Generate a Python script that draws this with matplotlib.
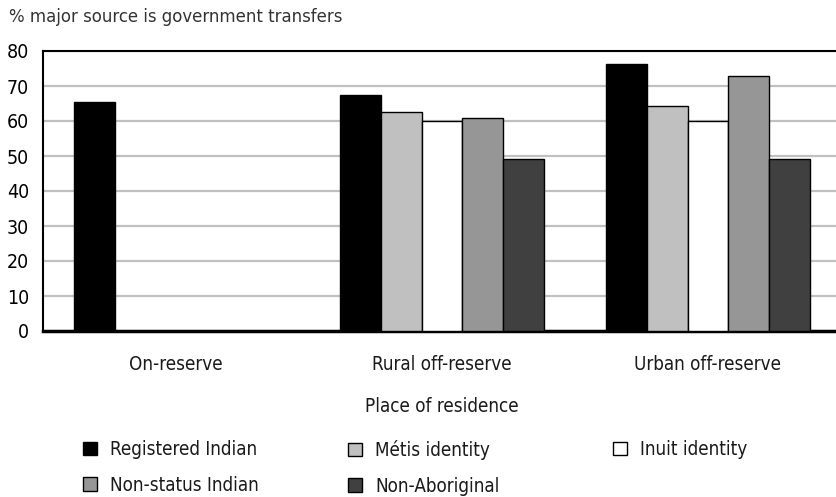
import numpy as np
import matplotlib
matplotlib.use("Agg")
import matplotlib.pyplot as plt
from matplotlib.patches import Patch

plt.rcParams['font.family'] = ['DejaVu Sans']
plt.rcParams['font.stretch'] = 'condensed'

# data
places = ["On-reserve", "Rural off-reserve", "Urban off-reserve"]
groups = ["Registered Indian", "Métis identity", "Inuit identity",
          "Non-status Indian", "Non-Aboriginal"]
registered = [65.3, 67.4, 76.4]
metis = [np.nan, 62.6, 64.3]
inuit = [np.nan, 60.0, 60.0]
non_status = [np.nan, 60.9, 72.9]
non_aboriginal = [np.nan, 49.1, 49.1]
series = [registered, metis, inuit, non_status, non_aboriginal]
colors = ["#000000", "#c0c0c0", "#ffffff", "#969696", "#404040"]

fig = plt.figure(figsize=(8.36, 4.97), dpi=100)
ax = fig.add_axes([43/836, 1 - 331/497, 798/836, 280/497])

x = np.arange(len(places))
w = 0.154
for i, (vals, c) in enumerate(zip(series, colors)):
    ax.bar(x + (i - 2) * w, vals, w, color=c, edgecolor="black",
           linewidth=1.0, zorder=3)

ax.set_xlim(-0.5, 2.5)
ax.set_ylim(0, 80)
ax.set_yticks(np.arange(0, 81, 10))
ax.set_xticks(x)
ax.set_xticklabels(places, fontsize=13.5, color="#1a1a1a")
ax.tick_params(axis="y", length=0, labelsize=14, pad=10)
ax.tick_params(axis="x", length=0, pad=17)
ax.yaxis.grid(True, color="#c0c0c0", linewidth=1.6, zorder=0)
ax.set_axisbelow(True)
ax.spines["right"].set_visible(False)
ax.spines["top"].set_linewidth(1.5)
ax.spines["left"].set_linewidth(1.5)
ax.spines["bottom"].set_linewidth(2.5)
ax.set_xlabel("Place of residence", fontsize=13.5, labelpad=17, color="#1a1a1a")

fig.text(9/836, 1 - 17/497, "% major source is government transfers",
         fontsize=13.2, va="center", ha="left", color="#333333")

# legend, laid out in three columns
cols = [[0, 3], [1, 4], [2]]
xs = [83/836, 348/836, 613/836]
for xc, idx in zip(xs, cols):
    handles = [Patch(facecolor=colors[k], edgecolor="black", linewidth=1.0)
               for k in idx]
    leg = fig.legend(handles, [groups[k] for k in idx], loc="upper left",
                     bbox_to_anchor=(xc, 1 - 440/497), frameon=False,
                     fontsize=13.5, handlelength=0.75, handleheight=0.75,
                     handletextpad=0.7, labelspacing=0.9, borderpad=0,
                     borderaxespad=0)
    for t in leg.get_texts():
        t.set_color("#1a1a1a")

fig.savefig("out.png", dpi=100)
